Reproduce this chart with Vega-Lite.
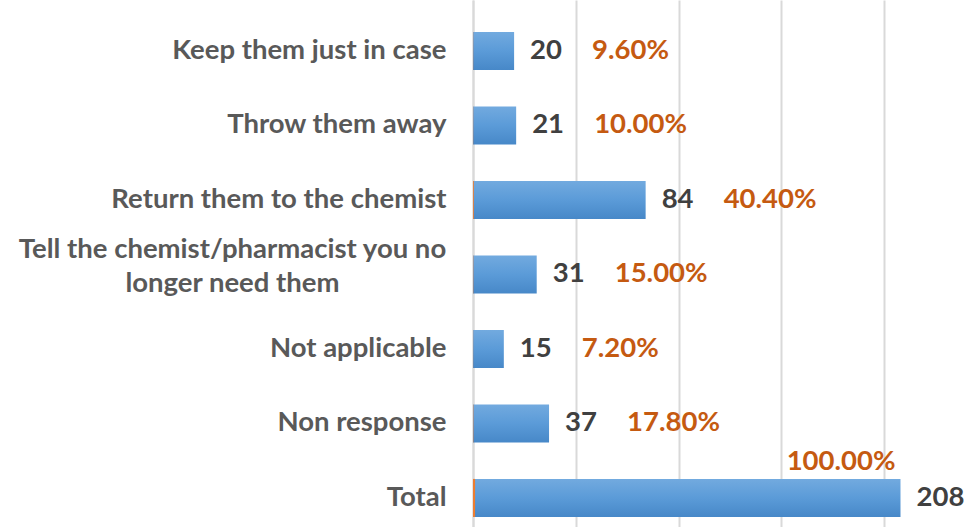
{
  "$schema": "https://vega.github.io/schema/vega-lite/v6.json",
  "width": 506,
  "height": 527,
  "autosize": {"type": "none"},
  "padding": {"left": 473, "top": 0, "right": 0, "bottom": 0},
  "background": "white",
  "config": {"view": {"stroke": null}},
  "data": {
    "values": [
      {"category": "Keep them just in case", "count": 20, "pct": 0.096},
      {"category": "Throw them away", "count": 21, "pct": 0.10},
      {"category": "Return them to the chemist", "count": 84, "pct": 0.404},
      {"category": "Tell the chemist/pharmacist you no longer need them", "count": 31, "pct": 0.15},
      {"category": "Not applicable", "count": 15, "pct": 0.072},
      {"category": "Non response", "count": 37, "pct": 0.178},
      {"category": "Total", "count": 208, "pct": 1.0}
    ]
  },
  "encoding": {
    "y": {
      "field": "category",
      "type": "nominal",
      "sort": null,
      "scale": {"paddingInner": 0.49, "paddingOuter": 0.282, "align": 0.76},
      "axis": {
        "title": null,
        "ticks": false,
        "domain": true,
        "domainColor": "#d9d9d9",
        "domainWidth": 2,
        "labelFont": "Lato",
        "labelFontWeight": "bold",
        "labelFontSize": 27.5,
        "labelColor": "#595959",
        "labelLimit": 600,
        "labelLineHeight": 34,
        "labelAlign": {"condition": {"test": "indexof(datum.value, 'you no') > 0", "value": "center"}, "value": "right"},
        "labelPadding": {"condition": {"test": "indexof(datum.value, 'you no') > 0", "value": 241}, "value": 27},
        "labelOffset": {"condition": {"test": "indexof(datum.value, 'you no') > 0", "value": -24}, "value": 0},
        "labelExpr": "indexof(datum.label, 'you no') > 0 ? ['Tell the chemist/pharmacist you no', 'longer need them'] : datum.label"
      }
    }
  },
  "layer": [
    {
      "mark": {
        "type": "bar",
        "color": {
          "gradient": "linear",
          "x1": 0, "y1": 0, "x2": 0, "y2": 1,
          "stops": [
            {"offset": 0, "color": "#72aadf"},
            {"offset": 0.5, "color": "#5b9bd8"},
            {"offset": 1, "color": "#4788c8"}
          ]
        }
      },
      "encoding": {
        "x": {
          "field": "count",
          "type": "quantitative",
          "scale": {"domain": [0, 246.2], "nice": false, "zero": true},
          "axis": {
            "title": null,
            "grid": true,
            "values": [0, 50, 100, 150, 200],
            "labels": false,
            "ticks": false,
            "domain": false,
            "gridColor": "#d9d9d9",
            "gridWidth": 2
          }
        }
      }
    },
    {
      "mark": {"type": "bar", "color": "#ed7d31"},
      "encoding": {
        "x": {"field": "pct", "type": "quantitative"}
      }
    },
    {
      "mark": {
        "type": "text",
        "align": "left",
        "baseline": "middle",
        "dx": 16,
        "font": "Lato",
        "fontWeight": "bold",
        "fontSize": 27.5,
        "color": "#404040"
      },
      "encoding": {
        "x": {"field": "count", "type": "quantitative"},
        "text": {"field": "count", "type": "quantitative"}
      }
    },
    {
      "transform": [{"filter": "datum.category != 'Total'"}],
      "mark": {
        "type": "text",
        "align": "left",
        "baseline": "middle",
        "dx": 78,
        "font": "Lato",
        "fontWeight": "bold",
        "fontSize": 27.5,
        "color": "#c55a11"
      },
      "encoding": {
        "x": {"field": "count", "type": "quantitative"},
        "text": {"field": "pct", "type": "quantitative", "format": ".2%"}
      }
    },
    {
      "transform": [{"filter": "datum.category == 'Total'"}],
      "mark": {
        "type": "text",
        "align": "right",
        "baseline": "middle",
        "dx": -5,
        "dy": -36,
        "font": "Lato",
        "fontWeight": "bold",
        "fontSize": 27.5,
        "color": "#c55a11"
      },
      "encoding": {
        "x": {"field": "count", "type": "quantitative"},
        "text": {"field": "pct", "type": "quantitative", "format": ".2%"}
      }
    }
  ]
}
